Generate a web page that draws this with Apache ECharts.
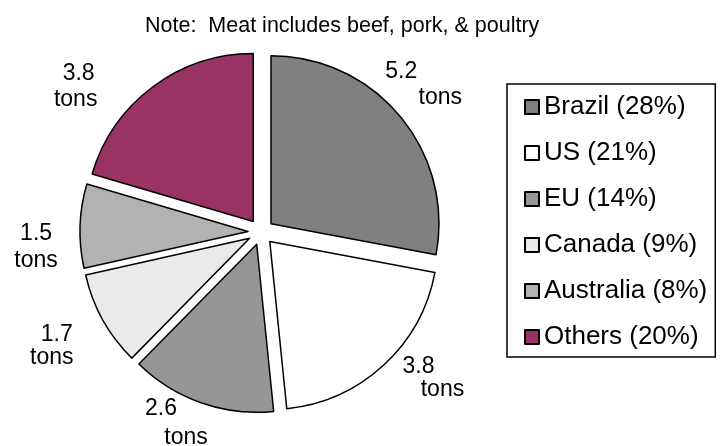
<!DOCTYPE html>
<html>
<head>
<meta charset="utf-8">
<script src="https://cdn.jsdelivr.net/npm/echarts@6/dist/echarts.min.js"></script>
<style>
html,body{margin:0;padding:0;background:#fff;}
#chart{width:723px;height:446px;}
</style>
</head>
<body>
<div id="chart"></div>
<script>
// ---- data ----
const categories = ['Brazil', 'US', 'EU', 'Canada', 'Australia', 'Others'];
const values = [5.2, 3.8, 2.6, 1.7, 1.5, 3.8];          // tons
const sharePct = [28, 21, 14, 9, 8, 20];               // legend shares (%)
const unitText = 'tons';
const noteText = 'Note:  Meat includes beef, pork, & poultry';

// ---- style ----
const colors = ['#808080', '#ffffff', '#969696', '#eaeaea', '#b2b2b2', '#993366'];
const FONT = "'Liberation Sans', Arial, sans-serif";
const CX = 261, CY = 232, R = 168, SEL = 13;
// label line offsets (value line, unit line) relative to each slice's outer arc midpoint
const valueNudge = [[1, -45], [35, 1], [-40, 6], [-46, 15], [-44, 8], [-74, -13]];
const unitNudge  = [[40, -19], [59, 24], [-15, 35], [-51, 38], [-44, 35], [-77, 13]];

const total = values.reduce((a, b) => a + b, 0);
function midAngle(i) {
  let c = 0;
  for (let k = 0; k < i; k++) c += values[k];
  return ((c + values[i] / 2) / total) * 2 * Math.PI;
}

const data = categories.map((name, i) => ({
  name: name,
  value: values[i],
  selected: true,
  itemStyle: { color: colors[i] }
}));

// value labels placed around the slices, derived from the data angles
const labelGraphics = [];
values.forEach((v, i) => {
  const a = midAngle(i);
  const ax = CX + (R + SEL) * Math.sin(a);
  const ay = CY - (R + SEL) * Math.cos(a);
  labelGraphics.push({
    type: 'text', x: ax + valueNudge[i][0], y: ay + valueNudge[i][1], silent: true,
    style: { text: v.toFixed(1), font: '23px ' + FONT, fill: '#000', align: 'center', verticalAlign: 'middle' }
  });
  labelGraphics.push({
    type: 'text', x: ax + unitNudge[i][0], y: ay + unitNudge[i][1], silent: true,
    style: { text: unitText, font: '23px ' + FONT, fill: '#000', align: 'center', verticalAlign: 'middle' }
  });
});

const chart = echarts.init(document.getElementById('chart'), null, { renderer: 'canvas' });
chart.setOption({
  animation: false,
  backgroundColor: '#fff',
  title: {
    text: noteText,
    left: 140,
    top: 10,
    textStyle: { fontSize: 21.5, fontWeight: 'normal', color: '#000', fontFamily: FONT }
  },
  legend: {
    orient: 'vertical',
    left: 507,
    top: 84,
    padding: [10, 8, 7, 17],
    borderColor: '#000',
    borderWidth: 1.5,
    itemWidth: 14,
    itemHeight: 14,
    itemGap: 20,
    icon: 'rect',
    selectedMode: false,
    data: categories,
    formatter: function (name) {
      const i = categories.indexOf(name);
      return name + ' (' + sharePct[i] + '%)';
    },
    textStyle: { fontSize: 26, lineHeight: 26, color: '#000', fontFamily: FONT }
  },
  graphic: labelGraphics,
  series: [{
    type: 'pie',
    center: [CX, CY],
    radius: R,
    startAngle: 90,
    clockwise: true,
    selectedMode: 'multiple',
    selectedOffset: SEL,
    avoidLabelOverlap: false,
    emphasis: { disabled: true },
    select: { itemStyle: { borderColor: '#000', borderWidth: 1.5 } },
    itemStyle: { borderColor: '#000', borderWidth: 1.5 },
    label: { show: false },
    labelLine: { show: false },
    data: data
  }]
});
</script>
</body>
</html>
